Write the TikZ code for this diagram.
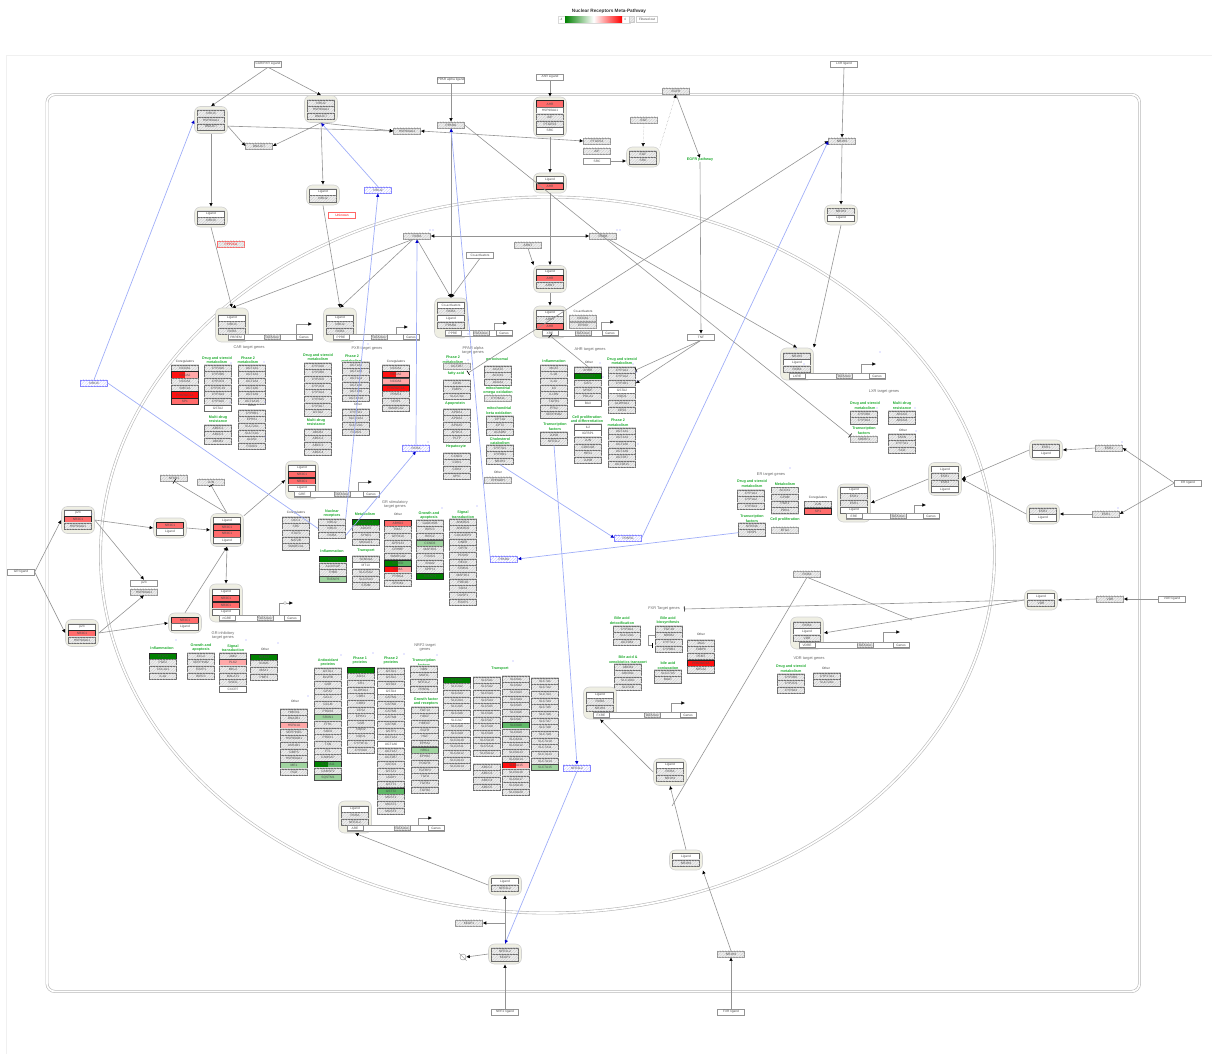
\documentclass[tikz,border=0pt]{standalone}
\usepackage{fontspec}
\setmainfont{Liberation Sans}
\usetikzlibrary{arrows.meta,patterns.meta,calc}
\definecolor{lrd}{HTML}{FF6B6B}
\definecolor{srd}{HTML}{FF1010}
\definecolor{pnk}{HTML}{FFA8A8}
\definecolor{dgr}{HTML}{008000}
\definecolor{mgr}{HTML}{60B868}
\definecolor{lgr}{HTML}{A0D4A0}
\definecolor{bg}{HTML}{EFEFE3}
\definecolor{blu}{HTML}{A0AEF8}
\definecolor{hd}{HTML}{1FAA2F}
\tikzset{
  txt/.style={font=\fontsize{3.2}{3.6}\selectfont,text=black!70},
  base/.style={txt,draw=black!42,line width=.35pt,minimum width=27pt,minimum height=6.2pt,inner sep=0pt},
  hatchfill/.style={fill=gray!14,postaction={pattern={Lines[angle=45,distance=2pt,line width=.3pt]},pattern color=gray!45}},
  gh/.style={base,hatchfill},
  gw/.style={base,fill=white},
  gb/.style={base,fill=white,draw=blue!50,postaction={pattern={Lines[angle=45,distance=2pt,line width=.3pt]},pattern color=blue!25}},
  gu/.style={base,hatchfill,draw=red!60,text=red},
  gx/.style={base,fill=white,draw=red!60,text=red},
  halo/.style={line width=.45pt,draw=black!58,preaction={draw=gray!25,line width=1.8pt}},
  sh/.style={base,hatchfill,halo},
  sw/.style={base,fill=white,halo},
  sr/.style={base,fill=lrd,draw=black!85,line width=.8pt},
  sR/.style={base,fill=srd,draw=black!85,line width=.8pt},
  sp/.style={base,fill=pnk,draw=black!70,line width=.8pt},
  sg/.style={base,fill=dgr,draw=black!85,line width=.8pt},
  sm/.style={base,fill=mgr,draw=black!85,line width=.8pt},
  sl/.style={base,fill=lgr,draw=black!70,line width=.8pt},
  shr/.style={base,fill=pnk,draw=black!85,line width=.8pt,path picture={\fill[srd] (path picture bounding box.south west) rectangle (path picture bounding box.north);}},
  shg/.style={base,fill=mgr,draw=black!85,line width=.8pt,path picture={\fill[dgr] (path picture bounding box.south west) rectangle (path picture bounding box.north);}},
  cx/.style={rectangle,rounded corners=6pt,draw=gray!35,line width=.6pt,fill=bg,minimum width=33pt,inner sep=0pt},
  pb/.style={txt,draw=black!45,line width=.35pt,fill=white,minimum width=16pt,minimum height=5pt,inner sep=0pt},
  ghead/.style={font=\fontsize{3.7}{4.6}\selectfont\bfseries,text=hd,align=center,inner sep=0pt},
  glab/.style={font=\fontsize{3.9}{4.8}\selectfont,text=black!60,align=center,inner sep=0pt},
  gsm/.style={font=\fontsize{3.2}{4}\selectfont,text=black!75,align=center,inner sep=0pt},
  arr/.style={draw=black!42,line width=.6pt,-{Latex[black,length=3.6pt,width=3.6pt]}},
  plainl/.style={draw=black!42,line width=.6pt},
  tee/.style={draw=black!42,line width=.6pt,-{Bar[black,width=5pt]}},
  dbl/.style={draw=black!42,line width=.6pt,{Latex[black,length=3.6pt,width=3.6pt]}-{Latex[black,length=3.6pt,width=3.6pt]}},
  barr/.style={draw=blu,line width=.7pt,-{Latex[blue!80!black,length=3.6pt,width=3.6pt]}},
  bline/.style={draw=blu,line width=.7pt},
  dashl/.style={draw=black!40,line width=.4pt,densely dotted},
  memb/.style={draw=gray!55,line width=.6pt,double=white,double distance=1.7pt},
  mk/.style={circle,fill=blue!40,inner sep=0pt,minimum size=1.3pt}
}
\newcommand\Col[4]{\foreach \gtxt/\gsty [count=\gi from 0] in {#4}{%
  \ifx\gtxt\gsty\def\gsty{sh}\fi
  \pgfmathsetmacro\gy{#3+6.67*\gi}
  \node[style/.expanded=\gsty] (#1-\gi) at (#2,\gy) {\gtxt};}}
\newcommand\Cx[4]{\node[cx,minimum height=#4pt] (#1) at (#2,#3) {};}
\newcommand\Prom[9]{%
  \draw[draw=black!40,line width=.4pt,fill=white] (#3-8,#6-2.8) rectangle (#5+8,#6+2.8);
  \node[pb] (#1-l) at (#3,#6) {#2};
  \node[pb,hatchfill] (#1-t) at (#4,#6) {TATA box};
  \node[pb] (#1-g) at (#5,#6) {Genes};
  \coordinate (#1-b) at (#7,#6-2.8);
  \coordinate (#1-e) at (#9,#8);
  \draw[arr] (#1-b) |- (#1-e);}
\begin{document}
\begin{tikzpicture}[x=1pt,y=-1pt]
\useasboundingbox (0,0) rectangle (1212,1054);
% frame
\draw[gray!12,line width=.6pt] (1212,55) -- (6,55) -- (6,1054);
% title and legend
\node[font=\fontsize{4.7}{5.5}\selectfont\bfseries,text=black!80,inner sep=0pt] (title) at (609,11) {Nuclear Receptors Meta-Pathway};
\node[draw=gray!30,line width=.5pt,minimum width=72pt,minimum height=7pt,inner sep=0pt] (legbox) at (594,19.5) {};
\shade[left color=dgr,right color=red,middle color=white] (565,17) rectangle (622,22.3);
\node[gsm,text=black!60] (legl) at (561,19.5) {-4};
\node[gsm,text=black!60] (legr) at (625,19.5) {4};
\node[base,hatchfill,minimum width=5pt,draw=gray!40] (legf) at (632,19.5) {};
\node[base,fill=white,minimum width=21pt,draw=gray!40] (legt) at (647,19.5) {Filtered out};
% membranes
\draw[memb,rounded corners=8pt] (47,94.5) rectangle (1139.5,991.5);
\draw[memb] (547.5,555) ellipse (447 and 358);

% ---- top left: CAR / PXR
\node[gw] (carl) at (268,64) {CAR/PXR Ligand};
\Cx{c1}{211}{120}{27} \Col{c1r}{211}{113.5}{NR1I3,HSP90AA1,DNAJC7}
\Cx{c2}{321}{109}{27} \Col{c2r}{321}{103}{NR1I2,HSP90AA1,DNAJC7}
\node[gh] (hspa) at (407,131) {HSP90AA1};
\node[gh] (dnj) at (259,146) {DNAJC7};
\Cx{c3}{211}{217}{20} \Col{c3r}{211}{214}{Ligand/sw,NR1I3}
\Cx{c4}{323}{195}{20} \Col{c4r}{323}{192}{Ligand/sw,NR1I2}
\node[gb] (bi2) at (378,190) {NR1I2};
\node[gx] (unk) at (342,215) {Unknown};
\node[gu] (ppp) at (231,244) {PPP2CA};
\node[gh] (rxra) at (417,236) {RXRA};
\node[gh] (rxrb) at (603,236) {RXRB};
% CAR nuclear
\Cx{car}{232}{325}{34} \Col{carr}{232}{318}{Ligand/sw,NR1I3,RXRA}
\Prom{carp}{PBREM}{236}{272}{304}{337}{296}{324}{312}
\Cx{pxr}{340}{325}{34} \Col{pxrr}{340}{318}{Ligand/sw,NR1I2,RXRA}
\Prom{pxrp}{PPRE}{341}{379}{411}{337}{396}{327}{408}
% PPAR alpha
\node[gw] (ppl) at (451,80) {PPAR alpha ligand};
\node[gh] (ppa) at (451,125) {PPARA};
\node[gw] (coa) at (480,255) {Co-activators};
\Cx{ppc}{451}{318}{40} \Col{ppr}{451}{305}{Co-activators/sw,RXRA,Ligand/sw,PPARA}
\Prom{ppp2}{PPRE}{453}{481}{504}{333}{494}{323}{507}
% AHR
\node[gw] (ahl) at (550,77) {AhR Ligand};
\Cx{ah1}{550}{117}{40} \Col{ah1r}{550}{104}{AHR/sr,HSP90AA1/sw,AIP,PTGES3,SRC/sw}
\node[gh] (pte) at (597,141) {PTGES3};
\node[gh] (aip) at (597,151) {AIP};
\node[gw] (src) at (597,161) {SRC};
\node[gh] (egf) at (644,120) {EGF};
\Cx{egc}{643}{157}{20} \Col{egr}{643}{154}{EGF,SRC}
\node[gh] (egfr) at (676,91) {EGFR};
\node[ghead] (egp) at (700,160) {EGFR pathway};
\node[gw] (tnf) at (701,337) {TNF};
\Cx{ah2}{550}{183}{20} \Col{ah2r}{550}{179.5}{Ligand/sw,AHR/sr}
\node[gh] (arnt) at (528,245) {ARNT};
\Cx{ah3}{550}{279}{27} \Col{ah3r}{550}{272}{Ligand/sw,AHR/sr,ARNT}
\Cx{ah4}{550}{322}{32} \Col{ah4r}{550}{313}{Ligand/sw,ARNT,AHR/sr}
\Prom{ahp}{XRE}{550}{583}{610}{333}{601}{322}{614}
\node[gsm] (coa2l) at (583,311) {Co-activators};
\node[gh] (nco) at (583,318) {NCOA1};
\node[gh] (ep3) at (583,325) {EP300};
\node[glab] (ahlab) at (590,350) {AHR target genes};

% ---- LXR
\node[gw] (lxl) at (844,64) {LXR ligand};
\node[gh] (lxa) at (842,141) {NR1H3};
\Cx{lx1}{841}{215}{20} \Col{lx1r}{841}{211.5}{NR1H3,Ligand/sw}
\Cx{lx2}{797}{364}{32} \Col{lx2r}{797}{356}{NR1H3,Ligand/sw,RXRA}
\Prom{lxp}{LXRE}{797}{844}{877}{376}{861}{364}{876}
\node[glab] (lxlab) at (884,392) {LXR target genes};
\node[ghead] (lxh1) at (865,405.5) {Drug and steroid\\metabolism};
\Col{lxc1}{864}{414}{CYP2B6,CYP3A4}
\node[ghead] (lxh2) at (864,430.5) {Transcription\\factors};
\node[gh] (srb) at (864,439) {SREBF1};
\node[ghead] (lxh3) at (902,405.5) {Multi-drug\\resistance};
\Col{lxc2}{902}{414}{ABCG5,ABCG8}
\node[gsm] (lxo) at (903,430) {Other};
\Col{lxc3}{902}{437}{FASN,CYP7A1,SCD}

% ---- ER
\node[gw] (erl) at (1188,483) {ER ligand};
\node[gh] (es1) at (1109,448) {ESR1};
\node[gh] (es2) at (1106,514) {ESR1};
\Cx{ec1}{1046}{450}{20} \Col{ec1r}{1046}{447}{ESR1,Ligand/sw}
\Cx{ec2}{1043}{514}{20} \Col{ec2r}{1043}{511}{ESR1,Ligand/sw}
\Cx{ec3}{945}{479}{33} \Col{ec3r}{945}{469.5}{Ligand/sw,ESR1,ESR1,Ligand/sw}
\Cx{ec4}{854}{503}{38} \Col{ec4r}{854}{490}{Ligand/sw,ESR1,ESR1,Ligand/sw}
\Prom{erp}{ERE}{854}{898}{931}{516}{914}{505}{926}
\node[glab] (erlab) at (771,475) {ER target genes};
\node[ghead] (erh1) at (752,483.5) {Drug and steroid\\metabolism};
\Col{erc1}{751}{493}{CYP1A1,CYP1A2,CYP3A4}
\node[ghead] (erh2) at (785,484) {Metabolism};
\Col{erc2}{785}{490.5}{ACOX1,GPAM,PGK1,PDK4}
\node[gsm] (erco) at (818,498) {Coregulators};
\Col{erc3}{818}{504.5}{JUN,SP1/sr}
\node[ghead] (erh3) at (752,518.5) {Transcription\\factors};
\Col{erc4}{752}{526}{NFKBIA,NRIP1}
\node[ghead] (erh4) at (785,520) {Cell proliferation};
\node[gh] (btg) at (785,530) {BTG2};

% ---- GR
\node[gw] (grl) at (21,572) {GR ligand};
\Cx{gr1}{78}{520}{27} \Col{gr1r}{78}{513}{p23/sw,NR3C1/sr,HSP90AA1}
\Cx{gr2}{82}{633}{27} \Col{gr2r}{82}{627}{p23/sw,NR3C1/sr,HSP90AA1}
\node[gw] (p23) at (144,583) {p23};
\node[gh] (hsb) at (144,592) {HSP90AA1};
\Cx{gr3}{170}{528}{20} \Col{gr3r}{170}{525}{NR3C1/sr,Ligand/sw}
\Cx{gr4}{185}{623}{20} \Col{gr4r}{185}{620}{NR3C1/sr,Ligand/sw}
\Cx{gr5}{227}{530}{33} \Col{gr5r}{227}{520.5}{Ligand/sw,NR3C1/sr,NR3C1/sr,Ligand/sw}
\Cx{gr6}{226}{603}{38} \Col{gr6r}{226}{592}{Ligand/sw,NR3C1/sr,NR3C1/sr,Ligand/sw}
\Prom{grp}{nGRE}{227}{265}{292}{618}{279}{603}{293}
\node[circle,draw=black!50,line width=.3pt,fill=white,minimum size=3pt,inner sep=0pt] (grx) at (285,603) {};
\node[gh] (nfk) at (174,478) {NFKB1};
\node[gh] (jun) at (211,482) {JUN};
\Cx{gr7}{302}{480}{38} \Col{gr7r}{302}{468}{Ligand/sw,NR3C1/sr,NR3C1/sr,Ligand/sw}
\Prom{gr7p}{GRE}{302}{342}{371}{494}{358}{482}{372}

% ---- CAR targets
\node[glab] (carlab) at (249,348) {CAR target genes};
\node[gsm] (cc0) at (185,362) {Coregulators};
\Col{cc1}{185}{368.3}{NCOA1,NCOA2/shr,NCOA3,SMC1A,PPARGC1A/sR,SP1/sr}
\node[ghead] (ch1) at (217,360) {Drug and steroid\\metabolism};
\Col{cc2}{218}{368}{CYP2A6,CYP2B6,CYP2C9,CYP2C19,CYP3A4,CYP3A5,GSTA2/sw}
\node[ghead] (ch2) at (248,360) {Phase 2\\metabolism};
\Col{cc3}{252}{368}{UGT1A1,UGT1A3,UGT1A4,UGT1A6,UGT1A9,UGT1A10}
\node[ghead] (ch3) at (218,419) {Multi-drug\\resistance};
\Col{cc4}{218}{428}{ABCC2,ABCC3,ABCB1}
\node[gsm] (ch4) at (252,405) {Other};
\Col{cc5}{252}{413}{CYP8B1,EPHX1,SULT2A1,SULT1A1,ALAS1,FOXO1}
% ---- PXR targets
\node[glab] (pxlab) at (367,349) {PXR target genes};
\node[ghead] (ph1) at (318,357) {Drug and steroid\\metabolism};
\Col{pc1}{318}{366}{CYP2A6,CYP2B6,CYP2C8,CYP2C9,CYP3A4,CYP3A5,CYP3A7,GSTA2}
\node[ghead] (ph2) at (316,422) {Multi-drug\\resistance};
\Col{pc2}{318}{432}{ABCB1,ABCC2,ABCC3,ABCC4}
\node[ghead] (ph3) at (352,358.5) {Phase 2\\metabolism};
\Col{pc3}{356}{365}{UGT1A1,UGT1A3,UGT1A4,UGT1A6,UGT1A9,UGT1A10}
\node[gsm] (ph4) at (358,404) {Other};
\Col{pc4}{356}{412}{CYP7A1,SLCO1A1,SULT2A1,FOXO1}
\node[gsm] (ph5) at (396,362) {Coregulators};
\Col{pc5}{396}{368}{NCOA1,NCOA2/shr,NCOA3/sp,PPARGC1A/sR,PRMT4,NRIP1,SMARCA2}

% ---- GR stimulatory
\node[glab] (gslab) at (395,504.5) {GR stimulatory\\target genes};
\node[gsm] (gsc) at (296,513) {Coregulators};
\Col{gs1}{296}{520}{DCC1,SRC,STAT3,NAT2B,SMARCA1}
\node[ghead] (gsh1) at (332,513.5) {Nuclear\\receptors};
\Col{gs2}{332}{522}{NR1I2,NR1I3,RXRA}
\node[ghead] (gsh2) at (365,514) {Metabolism};
\Col{gs3}{366}{522}{ANGPTL4/sg,ADCK5,SYNE1,MOGAT1}
\node[ghead] (gsh3) at (332,551) {Inflammation};
\Col{gs4}{333}{559.3}{CD163/sg,ALOX5AP,THBD,TNFAIP3/sl}
\node[ghead] (gsh4) at (366,551) {Transport};
\Col{gs5}{366}{559}{SCNN1A,MT1X/sw,SLC25A2,SLC25A3,STOM}
\node[gsm] (gso) at (398,514) {Other};
\Col{gs6}{398}{523}{ABHD2/sr,TMA7,GPR110,GPR133,CRHBP,SMARCA2,SPRED/shg,SEMA/shr,PRRG4,SPINK1}
\node[ghead] (gsh5) at (429,515.5) {Growth and\\apoptosis};
\Col{gs7}{430}{523}{GADD45B,BIRC3,BIRC2,CCND3/sl,MAP3K6,FOXO1,SNAI2,SPRY1,TNFAIP3/sg}
\node[ghead] (gsh6) at (463,514.5) {Signal\\transduction};
\Col{gs8}{463}{522}{ANKRD1,ANKRD2,CDC42EP3,DNER,OPTN,PCSK6,RECK,STMN1,MAP3K1,PDE4D,SOX4,DUSP1,FOXP1}

% ---- PPAR targets
\node[glab] (palab) at (473,350.5) {PPAR alpha\\target genes};
\node[ghead] (pah1) at (453,359.5) {Phase 2\\metabolism};
\node[gh] (pa0) at (457,366) {UGT2B7};
\node[ghead] (pah2) at (456,374) {fatty acid};
\Col{pa1}{457}{383}{CD36,FABP1,SLC27A1}
\node[ghead] (pah3) at (455,404) {Apoprotein};
\Col{pa2}{457}{412}{APOA1,APOA2,APOA5,APOC3,PLTP}
\node[ghead] (pah4) at (456,447) {Hepatocyte};
\Col{pa3}{457}{456}{CCND1,CDK1,CDK4,MYC}
\node[ghead] (pah5) at (497,360) {peroxisomal};
\Col{pa4}{498}{369}{ACAT2,ACOX1,ACAA1}
\node[ghead] (pah6) at (498,390.5) {mitochondrial\\omega oxidation};
\node[gh] (pa5) at (498,398) {CYP4A11};
\node[ghead] (pah7) at (499,410.5) {mitochondrial\\beta oxidation};
\Col{pa6}{500}{419}{CPT1A,CPT2,ACADM}
\node[ghead] (pah8) at (500,441) {Cholesterol\\catabolism};
\Col{pa7}{500}{448}{CYP7A1,CYP8B1,NR1H3}
\node[gsm] (pao) at (498,472) {Other};
\node[gh] (pa8) at (498,480) {EHHADH};
% ---- AHR targets
\node[ghead] (ar1) at (554,361) {Inflammation};
\Col{ac1}{554}{368}{MCAT,IL1B,IL1A,IL6,IL1RN,TGFB1,PTK2,SERPINB2}
\node[ghead] (ar2) at (555,426.5) {Transcription\\factors};
\Col{ac2}{554}{435}{JUNB,NFE2L2}
\node[gsm] (ar3) at (589,362) {Other};
\Col{ac3}{588}{370}{AHRR,SLCO2B1/sg,CAT1,MYOF,POLA1,BAX/sw}
\node[ghead] (ar4) at (587,419) {Cell proliferation\\and differentiation};
\Col{ac4}{588}{427}{IL2/sw,IGFBP1/sw,JUN,CDKN1B,HES1,JUNB}
\node[ghead] (ar5) at (622,361) {Drug and steroid\\metabolism};
\Col{ac5}{622}{370}{CYP1A1,CYP1A2,CYP1B1,GSTA2/sw,NQO1,ALDH3A1,CES3}
\node[ghead] (ar6) at (618,422.5) {Phase 2\\metabolism};
\Col{ac6}{622}{431}{UGT1A1,UGT1A3,UGT1A6,UGT1A9,UGT2B7,UGT2B15}
\node[gb] (pg) at (628,538) {PPARG};
\node[gb] (pab) at (504,559) {PPARA};
\node[gb] (nrfb) at (577,768) {NFE2L2};
\node[gb] (bi3) at (94,383) {NR1I3};
\node[gb] (rxb) at (416,448) {RXRA};

% ---- GR inhibitory
\node[glab] (gilab) at (223,635.5) {GR inhibitory\\target genes};
\node[ghead] (gi1) at (162,648) {Inflammation};
\Col{gic1}{163}{656}{PTGS2/sg,PGE2,COL1A1,IL1A}
\node[ghead] (gi2) at (201,647.5) {Growth and\\apoptosis};
\Col{gic2}{201}{656}{CCL2,SERPINB2,FOXP1,BIRC3}
\node[ghead] (gi3) at (233,648) {Signal\\transduction};
\Col{gic3}{233}{656}{JAK2,PLK2/sp,MKL2,MALAT1,SNCG,CXCR7/sw}
\node[gsm] (gi4) at (265,649) {Other};
\Col{gic4}{264}{657}{NR4A2/sg,ICAM1,MAX1,PMP2}
\node[gsm] (gi5) at (295,701) {Other};
\Col{gic5}{294}{712}{HMOX1,DNAJB1,HSPA1A/sp,SERPINE1,HSP90AB1,AKR1B1,GMPS,HSP90AA1,ME1/sl,PGD}
% ---- NRF2 targets
\node[glab] (nrlab) at (425,647.5) {NRF2 target\\genes};
\node[ghead] (nh1) at (328,662.5) {Antioxidant\\proteins};
\Col{nc1}{328}{671}{GSTA1,BLVRB,GSR,GPX2,GCLC,GCLM,PRDX6,SRXN1/sl,FTH1,SOD2,PRDX1,TXN,FTL,CAMSAP,SLC7A11/shg,CAMSP2,SQSTM1/sl}
\node[ghead] (nh2) at (360,660.5) {Phase 1\\proteins};
\Col{nc2}{361}{670}{CES1/sg,AOX1,CR1,ALDH3A1,CBR1,CBR3,CES2,EPHX1,GSR,NQO2,NQO1,CYP4F11,CYP2A6}
\node[ghead] (nh3) at (391,660.5) {Phase 2\\proteins};
\Col{nc3}{391}{671}{GSTA1,GSTA2,GSTA3,GSTA4/sw,GSTM1,GSTM2,GSTM3,GSTM4,GSTM5,GSTP1,UGT1A1,UGT1A6/sw,UGT1A7,UGT2B7,GSTO1,GSTZ1,UGDH,GSTT1,GSTT2/sm,MGST1,MGST2,MGST3}
\node[ghead] (nh4) at (424,662.5) {Transcription\\factors};
\Col{nc4}{424}{669}{NBN,MAFG,NFE2L2,PPARG}
\node[ghead] (nh5) at (426,701.5) {Growth factor\\and receptors};
\Col{nc5}{425}{710}{FGF13,HDGF,HBEGF,EGFR,HGF,EPHA2,NRG1/sl,EPHB2,PDGFB,FGFBP2,TGFA,TGFB1,TGFB2}
\node[ghead] (nh6) at (500,669) {Transport};
\Col{nc6}{457}{680}{SLC2A1/sg,SLC2A2,SLC2A3,SLC2A4,SLC2A5,SLC2A6,SLC2A7/sw,SLC2A8,SLC2A9,SLC2A10,SLC2A11,SLC2A12,SLC2A13,SLC2A14}
\Col{nc7}{487}{680}{SLC5A1,SLC5A2,SLC5A3,SLC5A4,SLC5A5,SLC5A6,SLC5A7,SLC5A8,SLC5A9,SLC5A10,SLC5A11,SLC5A12}
\Col{nc8}{487}{767}{ABCC2,ABCC3,ABCC4,ABCC5}
\Col{nc9}{516}{679}{SLC6A1,SLC6A2,SLC6A3,SLC6A4,SLC6A5,SLC6A6,SLC6A7,SLC6A8/sm,SLC6A9,SLC6A11,SLC6A12,SLC6A13,SLC6A14,SLC6A15/shr,SLC6A16,SLC6A17,SLC6A18,SLC6A20}
\Col{nc10}{545}{681}{SLC7A1,SLC7A2,SLC7A3,SLC7A4,SLC7A5,SLC7A6,SLC7A7,SLC7A8,SLC7A9,SLC7A10,SLC7A11,SLC7A13,SLC7A14,SLC7A15/sl}
% ---- NRF2 complexes
\Cx{nr1}{355}{817}{32} \Col{nr1r}{355}{809}{Ligand/sw,RXRA,NFE2L2}
\Prom{nrp}{ARE}{355}{402}{436}{828}{418}{818}{432}
\Cx{nr2}{505}{885}{20} \Col{nr2r}{505}{881.5}{Ligand/sw,NFE2L2}
\Cx{nr3}{505}{954}{20} \Col{nr3r}{505}{951}{NFE2L2,KEAP1}
\node[gh] (kea) at (469,923) {KEAP1};
\node[gw] (nrl) at (505,1012) {NRF2 ligand};
\node[circle,draw=black!45,line width=.4pt,minimum size=6pt,inner sep=0pt] (deg) at (463,957) {};
\draw[plainl,line width=.35pt,shorten <=-2pt,shorten >=-2pt] (deg.135) -- (deg.-45);

% ---- FXR / VDR
\node[glab] (fxlab) at (664,609) {FXR Target genes};
\coordinate (fxbar) at (684,609);
\node[ghead] (fh1) at (622,620.5) {Bile acid\\detoxification};
\Col{fc1}{627}{629}{CYP3A4,SULT2A1,UGT2B4}
\node[ghead] (fh2) at (668,620.5) {Bile acid\\biosynthesis};
\Col{fc2}{669}{629}{FGF19,NR0B2,CYP7A1,CYP8B1}
\node[gsm] (fh3) at (701,634) {Other};
\Col{fc3}{701}{643}{JAG1,FABP6,PEMT,PPARGC1A/sR,NR5A2}
\node[ghead] (fh4) at (628,660) {Bile acid \&\\xenobiotics transport};
\Col{fc4}{628}{667}{ABCB4,ABCB11,SLC10A1,SLC51B}
\node[ghead] (fh5) at (668,666) {bile acid\\conjugation};
\Col{fc5}{668}{673}{SLC27A5,BAAT}
\Cx{fx1}{600}{703}{32} \Col{fx1r}{600}{695}{Ligand/sw,RXRA,NR1H4}
\Prom{fxp}{FXRE}{601}{652}{688}{715}{671}{703}{685}
\Cx{fx2}{670}{772}{27} \Col{fx2r}{670}{765}{Ligand/sw,RXRA,NR1H4}
\Cx{fx3}{686}{860}{20} \Col{fx3r}{686}{856.5}{Ligand/sw,NR1H4}
\node[gh] (fxs) at (731,954) {NR1H4};
\node[gw] (fxl) at (731,1012) {FXR ligand};
\node[gh] (rxv) at (807,574) {RXRA};
\Cx{vd1}{807}{633}{32} \Col{vd1r}{807}{625}{RXRA,Ligand/sw,VDR}
\Prom{vdp}{VDRE}{807}{865}{901}{645}{883}{632}{900}
\node[glab] (vdlab) at (809,659) {VDR target genes};
\node[ghead] (vh1) at (791,668.5) {Drug and steroid\\metabolism};
\Col{vc1}{791}{677}{CYP2B6,CYP2C9,CYP3A4}
\node[gsm] (vh2) at (826,668) {Other};
\Col{vc2}{827}{676}{CYP27A1,SULT2A1}
\Cx{vd2}{1041}{600}{20} \Col{vd2r}{1041}{596.5}{Ligand/sw,VDR}
\node[gh] (vds) at (1110,599) {VDR};
\node[gw] (vdl) at (1172,599) {VDR ligand};
\coordinate (vdj) at (912,620);
\coordinate (fxj) at (672,806);

% ---- connectors: cytoplasm
\draw[arr] (carl.south) -- (c1.north);
\draw[arr] (carl.south) -- (c2.north);
\draw[arr] (c1.-20) -- (hspa.west);
\draw[arr] (c1.-20) -- (dnj.west);
\draw[arr] (c2.south) -- (hspa.west);
\draw[arr] (c2.south) -- (dnj.east);
\draw[arr] (c2.south) -- (c4.north);
\draw[arr] (c1.south) -- (c3.north);
\draw[arr] (c3.south) -- (car.north);
\draw[arr] (c4.south) -- (pxr.north);
\draw[arr] (ppl.south) -- (ppa.north);
\draw[arr] (ppa.south) -- (ppc.north);
\draw[dbl] (hspa.east) -- (pte.west);
\draw[arr] (ahl.south) -- (ah1.north);
\draw[arr] (ah1.south) -- (ah2.north);
\draw[arr] (ah2.south) -- (ah3.north);
\draw[arr] (ah3.south) -- (ah4.north);
\draw[arr] (arnt.south) -- (ah3.140);
\draw[arr] (src.east) -- (egc.west |- src.east);
\draw[dashl,-{Latex[black,length=3.6pt,width=3.6pt]}] (egf.south) -- (egc.north);
\draw[dashl,-{Latex[black,length=3.6pt,width=3.6pt]}] (egc.30) -- (egfr.south);
\draw[arr] (egfr.south) -- (egp.north);
\draw[arr] (egp.south) -- (tnf.north);
\draw[dbl] (rxra.east) -- (rxrb.west);
\draw[arr] (rxra.south) -- (ppc.north);
\draw[arr] (rxra.220) -- (pxr.north);
\draw[arr] (rxra.220) -- (car.north);
\draw[arr] (coa.south) -- (ppc.north);
\draw[arr] (rxrb.-30) -- (lx2.north);
\draw[tee] (ppa.east) -- (lxc1-0.west |- srb.north west);
\coordinate (tfa) at (468,373);
\draw[draw=black!42,line width=.6pt,{Bar[black,width=5pt]}-{Latex[black,length=3.6pt,width=3.6pt]}] (tfa) -- (lxa.west);
\draw[arr] (lxl.south) -- (lxa.north);
\draw[arr] (lxa.south) -- (lx1.north);
\draw[arr] (lx1.south) -- (lx2.north east);
\draw[draw=black!42,line width=.6pt,{Bar[black,width=5pt]}-] (ahp-l.south) -- (ac3-0.north);
\draw[tee] (tnf.south) -- (ac5-0.east);
\draw[arr] (tnf.south) -- (ac5-2.east);
% ER
\draw[arr] (erl.west) -- (es1.east);
\draw[arr] (erl.west) -- (es2.east);
\draw[arr] (es1.west) -- (ec1.east);
\draw[arr] (es2.west) -- (ec2.east);
\draw[arr] (ec1.west) -- (ec3.east);
\draw[arr] (ec2.west) -- (ec3.east);
\draw[arr] (ec3.west) -- (ec4.east);
% GR
\draw[arr] (grl.east) -- (gr1.west);
\draw[arr] (grl.east) -- (gr2.west);
\draw[arr] (gr1.east) -- (gr3.west);
\draw[arr] (gr1.east) -- (p23.north);
\draw[arr] (gr2.east) -- (hsb.south);
\draw[arr] (gr2.east) -- (gr4.west);
\draw[arr] (gr3.east) -- (gr5.west);
\draw[arr] (gr4.north) -- (gr5.south);
\draw[dbl] (gr5.south) -- (gr6.north);
\draw[arr] (gr5.40) -- (gr7.west);
\draw[tee] (gr5.north) -- (nfk.south);
\draw[tee] (gr5.north) -- (jun.south);
% FXR, VDR
\draw[tee] (vd2.west) -- (fxbar);
\draw[arr] (vd2.west) -- (vd1.east);
\draw[plainl] (rxv.south) -- (vdj);
\draw[plainl] (rxv.south) -- (fxj);
\draw[arr] (vdl.west) -- (vds.east);
\draw[arr] (vds.west) -- (vd2.east);
\draw[arr] (fxl.north) -- (fxs.south);
\draw[arr] (fxs.north) -- (fx3.south east);
\draw[arr] (fx3.north) -- (fx2.south);
\draw[arr] (fx2.west) -- (fx1.south);
\draw[draw=black!42,line width=.6pt,-{Bar[black,width=5pt]}] (fc2-1.west) -- ++(-7,0) -- ++(0,10) -- ++(4,0);
% NRF2
\draw[arr] (nrl.north) -- (nr3.south);
\draw[arr] (nr3.north) -- (nr2.south);
\coordinate (nrj) at (505,923);
\draw[arr] (nrj) -- (kea.east);
\draw[arr] (nr3.west) -- (deg.east);
\draw[arr] (nr2.west) -- (nr1.south);

% ---- blue regulatory links
\draw[barr] (bi3.north) -- (c1.west);
\draw[bline] (gs2-1.west) -- (bi3.east);
\draw[barr] (bi2.north) -- (c2.south);
\draw[barr] (gs2-0.north east) -- (bi2.south);
\draw[barr] (gs2-2.east) -- (rxb.south);
\draw[barr] (rxb.north) -- (rxra.south);
\draw[barr] (pa7-2.south) -- (pg.west);
\draw[barr] (pg.east) -- (lxa.west);
\draw[barr] (erc4-1.west) -- (pab.east);
\draw[barr] (pab.west) -- (ppa.south);
\draw[barr] (ac2-1.south) -- (nrfb.north);
\draw[barr] (nrfb.south) -- (nr3.north);

% ---- small blue comment marks
\foreach \mx/\my in {430/230,433/230,617/230,620/230,231/363,264/362,230/402,265/402,265/437,428/442,442/508,477/506,468/360,600/363,633/364,636/372,637/381,603/377,176/640,246/640,278/643,341/655,373/653,404/654,437/655,308/696,513/661,1122/442,1118/508,790/468,915/408,877/408,916/431,468/334,447/360,620/425,638/444,574/421,368/344,796/349,880/352,804/364,92/514}
  {\node[mk] (mk-\mx-\my) at (\mx,\my) {};}
\end{tikzpicture}
\end{document}
